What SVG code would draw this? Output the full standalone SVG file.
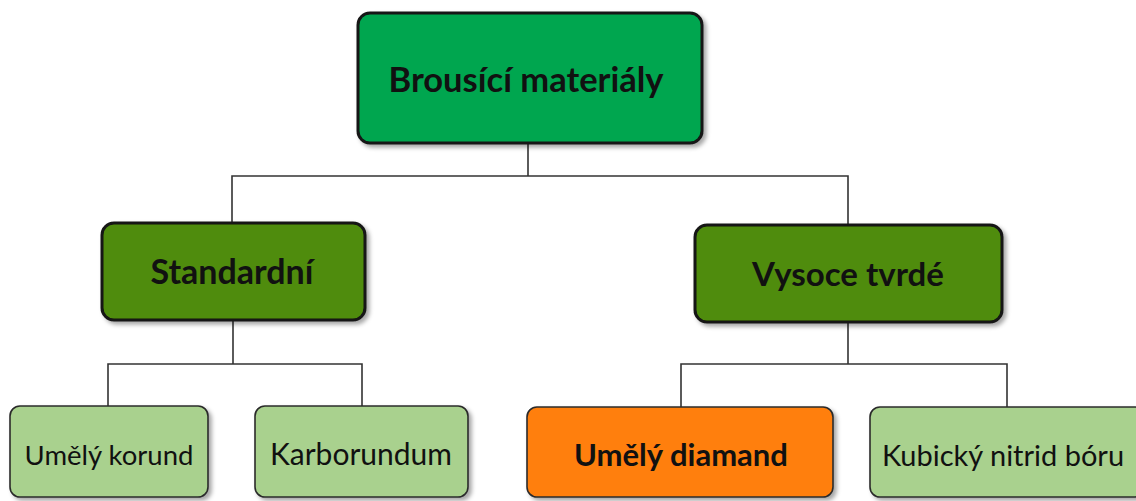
<svg xmlns="http://www.w3.org/2000/svg" width="1136" height="501" viewBox="0 0 1136 501">
<defs>
<filter id="sh" x="-10%" y="-10%" width="130%" height="140%">
<feDropShadow dx="3" dy="3" stdDeviation="2" flood-color="#000" flood-opacity="0.35"/>
</filter>
<style>
.box{filter:url(#sh)}
.l1{fill:#00A650;stroke:#141414;stroke-width:3}
.l2{fill:#4F8C0B;stroke:#141414;stroke-width:3}
.l3{fill:#A9D18E;stroke:#2b2b2b;stroke-width:1.6}
.l3o{fill:#FF7F10;stroke:#2b2b2b;stroke-width:1.6}
.t{font-family:Lato,"Liberation Sans",sans-serif;fill:#111;text-anchor:middle}
.b{font-weight:bold}
.conn{fill:none;stroke:#333;stroke-width:1.6}
</style>
</defs>
<rect width="1136" height="501" fill="#fff"/>
<g id="connectors" class="conn">
<path d="M528,143 V176"/>
<path d="M232,223 V176 H848 V225"/>
<path d="M233,320 V364"/>
<path d="M108,406 V364 H362 V406"/>
<path d="M848,322 V364"/>
<path d="M681,407 V364 H1007 V407"/>
</g>
<g id="brousici">
<rect class="box l1" x="358" y="13" width="344" height="130" rx="12"/>
<text class="t b" x="526" y="92" font-size="34.5">Brousící materiály</text>
</g>
<g id="standardni">
<rect class="box l2" x="102" y="223" width="263" height="97" rx="12"/>
<text class="t b" x="232" y="284" font-size="34">Standardní</text>
</g>
<g id="vysoce">
<rect class="box l2" x="695" y="225" width="307" height="97" rx="12"/>
<text class="t b" x="848" y="286" font-size="33">Vysoce tvrdé</text>
</g>
<g id="korund">
<rect class="box l3" x="10" y="406" width="198" height="91" rx="10"/>
<text class="t" x="109" y="465" font-size="27.5">Umělý korund</text>
</g>
<g id="karborundum">
<rect class="box l3" x="255" y="406" width="213" height="91" rx="10"/>
<text class="t" x="361" y="465" font-size="30">Karborundum</text>
</g>
<g id="diamand">
<rect class="box l3o" x="527" y="407" width="306" height="90" rx="10"/>
<text class="t b" x="681" y="466" font-size="31">Umělý diamand</text>
</g>
<g id="nitrid">
<rect class="box l3" x="870" y="407" width="275" height="90" rx="10"/>
<text class="t" x="1003" y="466" font-size="29">Kubický nitrid bóru</text>
</g>
</svg>
